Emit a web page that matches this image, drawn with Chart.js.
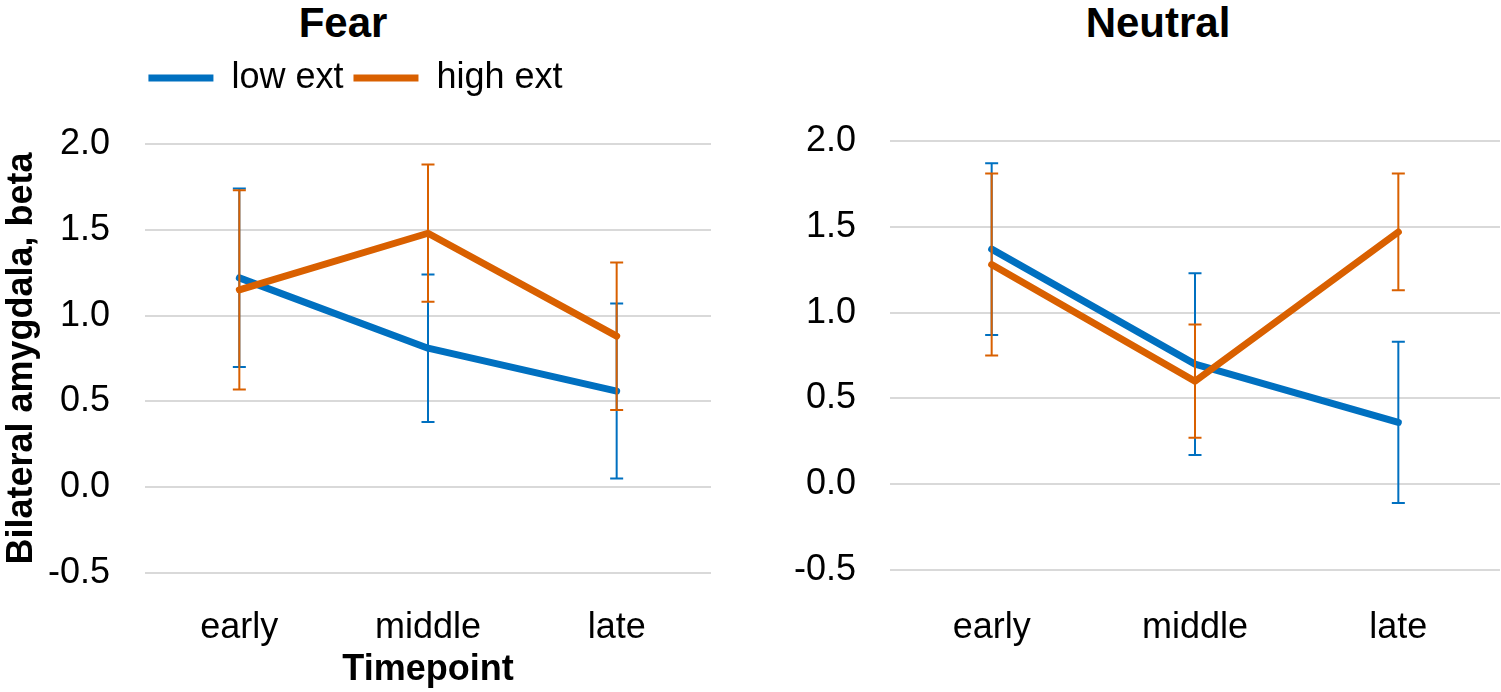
<!DOCTYPE html>
<html>
<head>
<meta charset="utf-8">
<script src="https://cdn.jsdelivr.net/npm/chart.js@4.4.1/dist/chart.umd.min.js"></script>
<style>
  body { margin: 0; background: #fff; width: 1501px; height: 692px; overflow: hidden; position: relative; font-family: "Liberation Sans", Arial, sans-serif; }
  .box { position: absolute; top: 0; height: 692px; }
  .ttl { position: absolute; top: 2px; font-weight: bold; font-size: 42px; line-height: 42px; transform: translateX(-50%); white-space: nowrap; color: #000; }
</style>
</head>
<body>
<div class="ttl" style="left:343px">Fear</div>
<div class="ttl" style="left:1158px">Neutral</div>
<div class="box" style="left:0;width:740px"><canvas id="fearChart"></canvas></div>
<div class="box" style="left:760px;width:741px"><canvas id="neutralChart"></canvas></div>
<script>
const timepoints = ['early', 'middle', 'late'];
const seriesNames = ['low ext', 'high ext'];

// means and error (+/-)
const fearLow = [1.22, 0.81, 0.56];
const fearLowErr = [0.52, 0.43, 0.51];
const fearHigh = [1.15, 1.48, 0.88];
const fearHighErr = [0.58, 0.40, 0.43];

const neutralLow = [1.37, 0.70, 0.36];
const neutralLowErr = [0.50, 0.53, 0.47];
const neutralHigh = [1.28, 0.60, 1.47];
const neutralHighErr = [0.53, 0.33, 0.34];

const yMin = -0.5;
const yMax = 2.0;
const yStep = 0.5;

const blue = 'rgb(0, 112, 192)';
const orange = 'rgb(217, 96, 0)';

Chart.defaults.font.family = '"Liberation Sans", Arial, sans-serif';
Chart.defaults.color = '#000';

// draws +/- error bars right after each line, like excel does
const errorBars = {
  id: 'errorBars',
  afterDatasetDraw(chart, args) {
    const ds = chart.data.datasets[args.index];
    if (!ds.errors) return;
    const y = chart.scales.y;
    const ctx = chart.ctx;
    ctx.save();
    ctx.strokeStyle = ds.borderColor;
    ctx.lineWidth = 2;
    args.meta.data.forEach((pt, i) => {
      const top = y.getPixelForValue(ds.data[i] + ds.errors[i]);
      const bot = y.getPixelForValue(ds.data[i] - ds.errors[i]);
      ctx.beginPath();
      ctx.moveTo(pt.x, top);
      ctx.lineTo(pt.x, bot);
      ctx.moveTo(pt.x - 6.5, top);
      ctx.lineTo(pt.x + 6.5, top);
      ctx.moveTo(pt.x - 6.5, bot);
      ctx.lineTo(pt.x + 6.5, bot);
      ctx.stroke();
    });
    ctx.restore();
  }
};

// leave some room between legend and plot
const legendGap = {
  id: 'legendGap',
  beforeInit(chart) {
    if (!chart.legend) return;
    const fit = chart.legend.fit;
    chart.legend.fit = function () {
      fit.bind(chart.legend)();
      this.height = 94;
    };
  }
};

function lineSet(label, data, errors, color, order) {
  return {
    label: label,
    data: data,
    errors: errors,
    borderColor: color,
    backgroundColor: color,
    borderWidth: 7,
    borderCapStyle: 'round',
    borderJoinStyle: 'round',
    pointRadius: 0,
    tension: 0,
    order: order
  };
}

function makeChart(canvas, low, lowErr, high, highErr, cfg) {
  return new Chart(canvas, {
    type: 'line',
    data: {
      labels: timepoints,
      datasets: [
        lineSet(seriesNames[0], low, lowErr, blue, 2),
        lineSet(seriesNames[1], high, highErr, orange, 1)
      ]
    },
    plugins: cfg.legend ? [errorBars, legendGap] : [errorBars],
    options: {
      responsive: true,
      maintainAspectRatio: false,
      animation: false,
      layout: { padding: cfg.padding },
      plugins: {
        tooltip: { enabled: false },
        legend: {
          display: cfg.legend,
          labels: {
            usePointStyle: true,
            pointStyle: 'line',
            pointStyleWidth: 65,
            font: { size: 36 },
            padding: 10,
            sort: (a, b) => a.datasetIndex - b.datasetIndex
          }
        }
      },
      scales: {
        x: {
          offset: true,
          grid: { display: false },
          border: { display: false },
          ticks: { font: { size: 36 }, padding: cfg.xPad },
          title: {
            display: cfg.axisTitles,
            text: 'Timepoint',
            font: { size: 36, weight: 'bold' },
            padding: 0
          },
          afterFit(scale) { scale.height = cfg.xHeight; }
        },
        y: {
          min: yMin,
          max: yMax,
          grid: { color: '#d9d9d9', lineWidth: 2, drawTicks: false },
          border: { display: false },
          ticks: {
            stepSize: yStep,
            font: { size: 36 },
            padding: cfg.yPad,
            callback: v => v.toFixed(1)
          },
          title: {
            display: cfg.axisTitles,
            text: 'Bilateral amygdala, beta',
            font: { size: 36, weight: 'bold' },
            padding: 0
          },
          afterFit(scale) { scale.width = cfg.yWidth; }
        }
      }
    }
  });
}

makeChart(document.getElementById('fearChart'), fearLow, fearLowErr, fearHigh, fearHighErr, {
  legend: true,
  axisTitles: true,
  padding: { top: 50, right: 29, left: 0, bottom: 0 },
  xHeight: 119,
  xPad: 25,
  yWidth: 145,
  yPad: 35
});

makeChart(document.getElementById('neutralChart'), neutralLow, neutralLowErr, neutralHigh, neutralHighErr, {
  legend: false,
  axisTitles: false,
  padding: { top: 141, right: 1, left: 0, bottom: 0 },
  xHeight: 122,
  xPad: 28,
  yWidth: 130,
  yPad: 34
});
</script>
</body>
</html>
